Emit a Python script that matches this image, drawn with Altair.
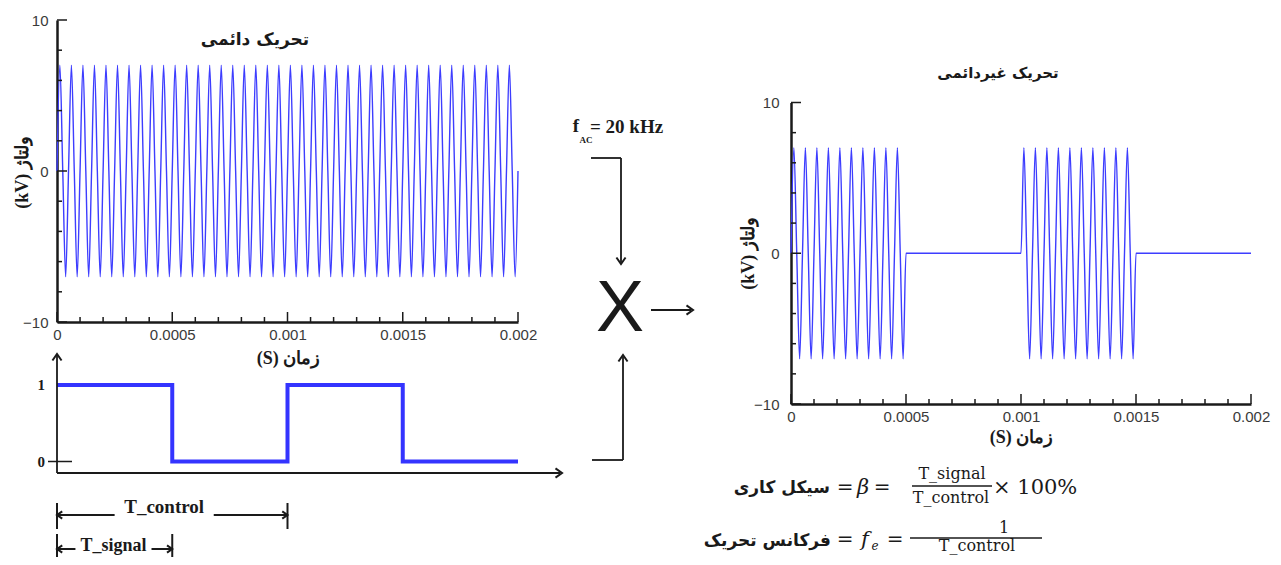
import altair as alt
import pandas as pd

# ---------------- values ----------------
TIME_END_S = 0.002
CARRIER_FREQ_HZ = 20000                       # f_AC = 20 kHz
CARRIER_CYCLE_KV = [0.0, 7.0, 0.0, -7.0]      # one carrier cycle, quarter-period steps (peak 7 kV)
CONTROL_EDGES_S = [0.0, 0.0005, 0.001, 0.0015, 0.002]
CONTROL_LEVELS = [1, 0, 1, 0, 0]
T_SIGNAL_S = 0.0005
T_CONTROL_S = 0.001

TIME_TICKS_MAJOR = [0.0, 0.0005, 0.001, 0.0015, 0.002]
TIME_TICKS_MINOR = [0.0001, 0.0002, 0.0003, 0.0004, 0.0006, 0.0007, 0.0008, 0.0009,
                    0.0011, 0.0012, 0.0013, 0.0014, 0.0016, 0.0017, 0.0018, 0.0019]
VOLT_TICKS_MAJOR = [-10, 0, 10]
VOLT_TICKS_MINOR = [-8, -6, -4, -2, 2, 4, 6, 8]
CONTROL_TICK_LABELS = [0, 1]

# ---------------- layout / style ----------------
W, H, OFF = 1265, 549, 8


def px(v):
    return v - OFF


INK = "#1a1a1a"
WAVE_BLUE = "#3d3dff"
GATE_BLUE = "#3434ff"
F_SERIF = "Liberation Serif"
F_SANS = "Liberation Sans"
F_FA = "DejaVu Sans"
F_MATH = "DejaVu Serif"

LX = alt.Scale(domain=[0, TIME_END_S], range=[px(57), px(518)], nice=False, zero=False)
LY = alt.Scale(domain=[-10, 10], range=[px(322), px(20)], nice=False, zero=False)
SQY = alt.Scale(domain=[0, 1], range=[px(461.5), px(385)], nice=False, zero=False)
RX = alt.Scale(domain=[0, TIME_END_S], range=[px(791), px(1251)], nice=False, zero=False)
RY = alt.Scale(domain=[-10, 10], range=[px(404), px(102.5)], nice=False, zero=False)

# ---------------- series ----------------
quarter = 1.0 / CARRIER_FREQ_HZ / 4
n_q = int(round(TIME_END_S / quarter))
edge_idx = [int(round(e / quarter)) for e in CONTROL_EDGES_S]


def gate_at(i):
    level = CONTROL_LEVELS[0]
    for e, l in zip(edge_idx, CONTROL_LEVELS):
        if i >= e:
            level = l
    return level


times = [i * quarter for i in range(n_q + 1)]
carrier = [CARRIER_CYCLE_KV[i % 4] for i in range(n_q + 1)]
burst = [c * gate_at(i) for i, c in enumerate(carrier)]
wave_df = pd.DataFrame({"t": times, "kv": carrier, "burst": burst})
gate_df = pd.DataFrame({"t": CONTROL_EDGES_S, "level": CONTROL_LEVELS})


def time_axis(axis_y, title_x, title_dy):
    return alt.Axis(orient="bottom", offset=px(axis_y) - H, values=TIME_TICKS_MAJOR, format="~g",
                    grid=False, ticks=False, tickSize=0, domainColor=INK, domainWidth=2.5,
                    labelFont=F_SANS, labelFontSize=15, labelColor="#3a3a3a", labelFlush=False,
                    labelPadding=5, title="(S) زمان", titleFont=F_SERIF, titleFontSize=18,
                    titleFontWeight="bold", titleColor=INK, titleX=px(title_x), titleY=title_dy,
                    titleAlign="center", titleBaseline="middle")


def volt_axis(axis_x, title_x, title_y, pad):
    return alt.Axis(orient="left", offset=-px(axis_x), values=VOLT_TICKS_MAJOR, format="d",
                    grid=False, ticks=False, tickSize=0, domainColor=INK, domainWidth=2.5,
                    labelFont=F_SANS, labelFontSize=15, labelColor="#3a3a3a", labelPadding=pad,
                    title="(kV) ولتاژ", titleFont=F_SERIF, titleFontSize=18, titleFontWeight="bold",
                    titleColor=INK, titleX=px(title_x) - px(axis_x), titleY=px(title_y),
                    titleAngle=270, titleAlign="center", titleBaseline="middle")


layers = []

# continuous excitation (left)
layers.append(alt.Chart(wave_df).mark_line(color=WAVE_BLUE, strokeWidth=1.4, interpolate="monotone").encode(
    x=alt.X("t:Q", scale=LX, axis=time_axis(322, 288, 36)),
    y=alt.Y("kv:Q", scale=LY, axis=volt_axis(57, 22, 172, 9))))

# burst excitation (right) = carrier x control
layers.append(alt.Chart(wave_df).mark_line(color=WAVE_BLUE, strokeWidth=1.4, interpolate="monotone").encode(
    x=alt.X("t:Q", scale=RX, axis=time_axis(404, 1021, 33)),
    y=alt.Y("burst:Q", scale=RY, axis=volt_axis(791, 748, 253, 12))))

# control square wave
layers.append(alt.Chart(gate_df).mark_line(color=GATE_BLUE, strokeWidth=4, interpolate="step-after").encode(
    x=alt.X("t:Q", scale=LX, axis=None),
    y=alt.Y("level:Q", scale=SQY, axis=None)))


# inward axis ticks (positions through the scales, lengths in px)
def x_ticks(xs, vals, axis_y, length):
    df = pd.DataFrame({"t": vals})
    return alt.Chart(df).mark_rule(strokeWidth=1.5, color=INK).encode(
        x=alt.X("t:Q", scale=xs, axis=None),
        y=alt.value(px(axis_y)), y2=alt.value(px(axis_y) - length))


def y_ticks(ys, vals, axis_x, length, start=0):
    df = pd.DataFrame({"v": vals})
    return alt.Chart(df).mark_rule(strokeWidth=1.5, color=INK).encode(
        y=alt.Y("v:Q", scale=ys, axis=None),
        x=alt.value(px(axis_x) + start), x2=alt.value(px(axis_x) + length))


for xs, ys, ax_x, ax_y in [(LX, LY, 57, 322), (RX, RY, 791, 404)]:
    layers.append(x_ticks(xs, TIME_TICKS_MAJOR, ax_y, 10))
    layers.append(x_ticks(xs, TIME_TICKS_MINOR, ax_y, 5))
    layers.append(y_ticks(ys, VOLT_TICKS_MAJOR, ax_x, 10))
    layers.append(y_ticks(ys, VOLT_TICKS_MINOR, ax_x, 5))

# control-signal level labels and the "+" tick at 0
layers.append(alt.Chart(pd.DataFrame({"level": CONTROL_TICK_LABELS})).mark_text(
    font=F_SERIF, fontSize=15, fontWeight="bold", align="right", baseline="middle", color=INK).encode(
    x=alt.value(px(45)), y=alt.Y("level:Q", scale=SQY, axis=None), text="level:Q"))
layers.append(y_ticks(SQY, [0], 57, 15, start=-9))

# decorative arrow lines (picture px)
SEGMENTS = [
    (57, 473, 57, 355), (57, 473, 560, 473),          # control-signal axes
    (591, 158, 621, 158), (621, 158, 621, 262),       # carrier feed
    (651, 310, 691, 310),                             # product output
    (592, 460, 623, 460), (623, 460, 623, 357),       # control feed
]
seg_df = pd.DataFrame(SEGMENTS, columns=["x", "y", "x2", "y2"]).apply(px)
layers.append(alt.Chart(seg_df).mark_rule(strokeWidth=1.8, color=INK).encode(
    x=alt.X("x:Q", scale=None, axis=None), y=alt.Y("y:Q", scale=None, axis=None),
    x2="x2:Q", y2="y2:Q"))

CHEVRON = "M-1,-0.7L0,0L-1,0.7"
TIPS = [(57, 354, 270), (562, 473, 0), (621, 264, 90), (693, 310, 0), (623, 355, 270)]
tip_df = pd.DataFrame(TIPS, columns=["x", "y", "a"])
tip_df["x"] = tip_df["x"].apply(px)
tip_df["y"] = tip_df["y"].apply(px)
layers.append(alt.Chart(tip_df).mark_point(shape=CHEVRON, filled=False, size=170, strokeWidth=2,
                                           color=INK, opacity=1).encode(
    x=alt.X("x:Q", scale=None, axis=None), y=alt.Y("y:Q", scale=None, axis=None),
    angle=alt.Angle("a:Q", scale=None)))

# T_control / T_signal dimension lines (time positions on the control-signal scale)
DIMS = [
    # label, span, line y, bar top, bar bottom, text y, gap start, gap end, font size
    ("T_control", T_CONTROL_S, 515, 503, 529, 507, 0.00025, 0.00068, 19),
    ("T_signal", T_SIGNAL_S, 549, 534, 557, 546, 0.00008, 0.00041, 18),
]
for label, span, ly, bt, bb, ty, g0, g1, fs in DIMS:
    bars = pd.DataFrame({"t": [0.0, span], "y": [px(bt)] * 2, "y2": [px(bb)] * 2})
    layers.append(alt.Chart(bars).mark_rule(strokeWidth=2, color=INK).encode(
        x=alt.X("t:Q", scale=LX, axis=None), y=alt.Y("y:Q", scale=None, axis=None), y2="y2:Q"))
    lines = pd.DataFrame({"t": [0.0, g1], "t2": [g0, span], "y": [px(ly)] * 2})
    layers.append(alt.Chart(lines).mark_rule(strokeWidth=2, color=INK).encode(
        x=alt.X("t:Q", scale=LX, axis=None), x2="t2:Q", y=alt.Y("y:Q", scale=None, axis=None)))
    heads = pd.DataFrame({"t": [0.0, span], "y": [px(ly)] * 2, "a": [180, 0]})
    layers.append(alt.Chart(heads).mark_point(shape=CHEVRON, filled=False, size=110, strokeWidth=2,
                                              color=INK, opacity=1).encode(
        x=alt.X("t:Q", scale=LX, axis=None), y=alt.Y("y:Q", scale=None, axis=None),
        angle=alt.Angle("a:Q", scale=None)))
    layers.append(alt.Chart(pd.DataFrame({"t": [(g0 + g1) / 2], "s": [label]})).mark_text(
        font=F_SERIF, fontSize=fs, fontWeight="bold", align="center", baseline="middle", color=INK).encode(
        x=alt.X("t:Q", scale=LX, axis=None), y=alt.value(px(ty)), text="s:N"))

# free text (picture px)
TEXTS = [
    # text, x, y, size, font, weight, style, align
    ("تحریک دائمی", 255, 40, 17, F_FA, "bold", "normal", "center"),
    ("تحریک غیردائمی", 998, 73, 15, F_FA, "bold", "normal", "center"),
    ("f", 576, 126, 19, F_SERIF, "bold", "normal", "center"),
    ("AC", 586, 140, 9, F_SERIF, "bold", "normal", "center"),
    ("= 20 kHz", 590, 127, 19, F_SERIF, "bold", "normal", "left"),
    ("X", 620, 309, 72, F_SANS, "normal", "normal", "center"),
    ("سیکل کاری", 830, 488, 17, F_FA, "bold", "normal", "right"),
    ("=", 845, 488, 20, F_MATH, "normal", "normal", "center"),
    ("β", 863, 488, 21, F_MATH, "normal", "italic", "center"),
    ("=", 882, 488, 20, F_MATH, "normal", "normal", "center"),
    ("T_signal", 952, 474, 16, F_MATH, "normal", "normal", "center"),
    ("T_control", 951, 498, 16, F_MATH, "normal", "normal", "center"),
    ("× 100%", 993, 488, 21, F_MATH, "normal", "normal", "left"),
    ("فرکانس تحریک", 831, 541, 17, F_FA, "bold", "normal", "right"),
    ("=", 845, 540, 20, F_MATH, "normal", "normal", "center"),
    ("f", 865, 540, 21, F_MATH, "normal", "italic", "center"),
    ("e", 875, 546, 12, F_MATH, "normal", "italic", "center"),
    ("=", 895, 540, 20, F_MATH, "normal", "normal", "center"),
    ("1", 1004, 528, 16, F_MATH, "normal", "normal", "center"),
    ("T_control", 977, 546, 16, F_MATH, "normal", "normal", "center"),
]
for text, x, y, size, font, weight, style, align in TEXTS:
    layers.append(alt.Chart(pd.DataFrame({"s": [text]})).mark_text(
        font=font, fontSize=size, fontWeight=weight, fontStyle=style, align=align,
        baseline="middle", color=INK).encode(x=alt.value(px(x)), y=alt.value(px(y)), text="s:N"))

# fraction bars
FRACTION_BARS = [(912, 992, 486), (910, 1042, 538)]
fb = pd.DataFrame(FRACTION_BARS, columns=["x", "x2", "y"]).apply(px)
layers.append(alt.Chart(fb).mark_rule(strokeWidth=1.3, color=INK).encode(
    x=alt.X("x:Q", scale=None, axis=None), x2="x2:Q", y=alt.Y("y:Q", scale=None, axis=None)))

chart = (alt.layer(*layers)
         .resolve_scale(x="independent", y="independent")
         .resolve_axis(x="independent", y="independent")
         .properties(width=W, height=H, padding=0, background="white",
                     autosize=alt.AutoSizeParams(type="none"))
         .configure_view(stroke=None))

chart.save("out.html", embed_options={"renderer": "svg", "actions": False})
